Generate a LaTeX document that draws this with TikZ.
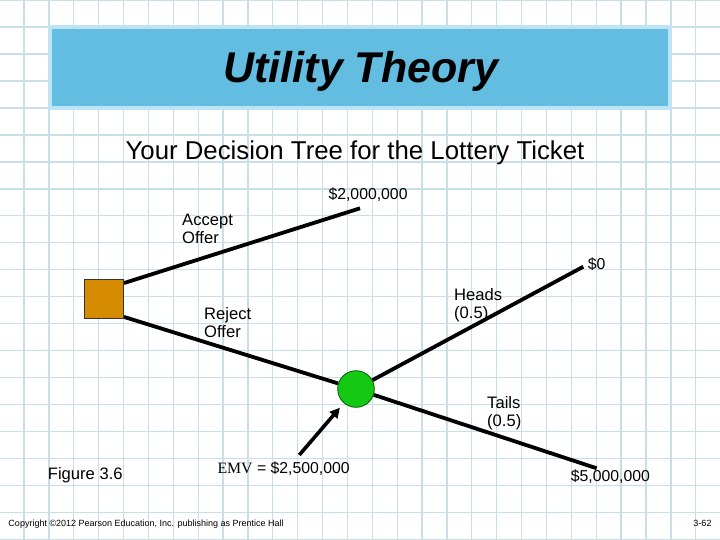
\documentclass[tikz,border=0pt]{standalone}
\usepackage{fontspec}
\setmainfont{Liberation Sans}
\newfontfamily\serifEMV{Liberation Serif}
\usetikzlibrary{arrows.meta}
\definecolor{gridc}{RGB}{200,222,232}
\definecolor{titlefill}{RGB}{98,189,225}
\definecolor{titleedge}{RGB}{190,227,243}
\definecolor{decfill}{RGB}{213,140,0}
\definecolor{chfill}{RGB}{20,200,20}
\definecolor{chedge}{RGB}{0,90,0}
\pgfdeclarelayer{bg}
\pgfsetlayers{bg,main}
\begin{document}
\begin{tikzpicture}[x=1pt,y=-1pt,
  gridline/.style={gridc, line width=1.3pt},
  branch/.style={line width=3.8pt},
  pointer/.style={line width=3.6pt, -{Triangle[length=10pt,width=10pt]}, shorten >=6pt},
  lbl/.style={font=\fontsize{16.6}{17.5}\selectfont, inner sep=0pt, align=left, anchor=north west},
  val/.style={font=\fontsize{15.8}{17}\selectfont, inner sep=0pt, anchor=base west},
  tiny/.style={font=\fontsize{9}{10}\selectfont, inner sep=0pt}]
\useasboundingbox (0,0) rectangle (720,540);
% nodes
\node (titlebox) [rectangle, draw=titleedge, line width=4pt, fill=titlefill,
  minimum width=620pt, minimum height=81pt, inner sep=0pt] at (360.3,67.5) {};
\node (title) [font=\fontsize{43}{50}\selectfont\bfseries\itshape, anchor=base, inner sep=0pt] at (361,83) {Utility Theory};
\node (sub) [font=\fontsize{25.8}{30}\selectfont, anchor=base, inner sep=0pt] at (355,160) {Your Decision Tree for the Lottery Ticket};
\node (dec) [rectangle, draw=black!80, fill=decfill, line width=0.8pt, minimum size=39pt, inner sep=0pt] at (104,299) {};
\node (ch) [circle, draw=chedge, fill=chfill, line width=0.8pt, minimum size=36.6pt, inner sep=0pt] at (356,389) {};
\coordinate (endA) at (360,208.3);
\coordinate (endH) at (583.3,266.7);
\coordinate (endT) at (596.7,468.3);
\coordinate (emvtail) at (299.3,455);
% labels
\node (acc) [lbl] at (182,214) {Accept\\Offer};
\node (rej) [lbl] at (204,307.7) {Reject\\Offer};
\node (heads) [lbl] at (454,288.3) {Heads\\(0.5)};
\node (tails) [lbl] at (487,396.7) {Tails\\(0.5)};
\node (v2m) [val] at (328.3,199.3) {\$2,000,000};
\node (v0) [val] at (587.7,269.3) {\$0};
\node (v5m) [val] at (570.7,481.7) {\$5,000,000};
\node (emv) [val] at (217.3,473.3) {{\serifEMV EMV} = \$2,500,000};
\node (fig) [font=\fontsize{16.6}{17.5}\selectfont, inner sep=0pt, anchor=base west] at (47.7,479) {Figure 3.6};
\node (copy) [tiny, anchor=base west] at (8.3,526) {Copyright \textcopyright 2012 Pearson Education, Inc. publishing as Prentice Hall};
\node (pg) [tiny, anchor=base east] at (711.7,526.7) {3-62};
% background: grid and branches
\begin{pgfonlayer}{bg}
\fill[white] (0,0) rectangle (720,540);
\foreach \k in {0,...,29} \draw[gridline] ({-0.88+24.88*\k},0) -- ++(0,540);
\foreach \k in {0,...,20} \draw[gridline] (0,{26.98*\k}) -- ++(720,0);
\draw[branch] ([yshift=-4pt]dec.north east) -- (endA);
\draw[branch] ([yshift=2pt]dec.south east) -- (ch);
\draw[branch] (ch) -- (endH);
\draw[branch] (ch) -- (endT);
\end{pgfonlayer}
\draw[pointer] (emvtail) -- (ch);
\end{tikzpicture}
\end{document}
